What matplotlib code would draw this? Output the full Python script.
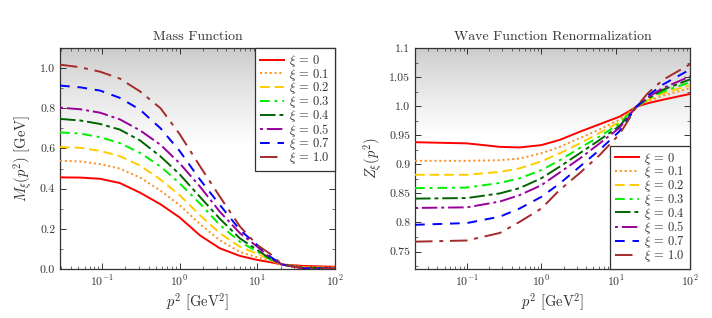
import matplotlib
matplotlib.use('Agg')
import matplotlib.pyplot as plt
import numpy as np
from matplotlib.ticker import MultipleLocator, LogLocator, NullFormatter

plt.rcParams['font.family'] = 'serif'
plt.rcParams['font.serif'] = ['cmr10', 'DejaVu Serif']
plt.rcParams['mathtext.fontset'] = 'cm'
plt.rcParams['axes.formatter.use_mathtext'] = True
plt.rcParams['axes.unicode_minus'] = False

# ---------------- data ----------------
xi_labels = ['0', '0.1', '0.2', '0.3', '0.4', '0.5', '0.7', '1.0']

# mass function M_xi(p^2) [GeV]
p2_mass = [0.029, 0.053, 0.095, 0.17, 0.31, 0.57, 1.0, 1.85, 3.3, 6.0, 10, 14.7, 21, 40, 100]
m_xi0 = [0.456, 0.455, 0.449, 0.428, 0.38, 0.322, 0.257, 0.166, 0.103, 0.065, 0.045, 0.034, 0.022, 0.015, 0.011]
m_xi01 = [0.539, 0.535, 0.522, 0.500, 0.455, 0.39, 0.318, 0.222, 0.143, 0.085, 0.058, 0.040, 0.022, 0.010, 0.008]
m_xi02 = [0.607, 0.603, 0.588, 0.562, 0.515, 0.445, 0.368, 0.266, 0.178, 0.11, 0.076, 0.045, 0.022, 0.008, 0.006]
m_xi03 = [0.68, 0.674, 0.656, 0.627, 0.578, 0.51, 0.427, 0.324, 0.219, 0.135, 0.086, 0.048, 0.022, 0.006, 0.005]
m_xi04 = [0.747, 0.739, 0.722, 0.694, 0.64, 0.56, 0.472, 0.357, 0.25, 0.152, 0.095, 0.050, 0.022, 0.005, 0.004]
m_xi05 = [0.803, 0.795, 0.778, 0.745, 0.69, 0.618, 0.527, 0.408, 0.285, 0.178, 0.111, 0.055, 0.022, 0.004, 0.003]
m_xi07 = [0.913, 0.904, 0.888, 0.852, 0.793, 0.70, 0.588, 0.443, 0.319, 0.194, 0.119, 0.061, 0.022, 0.002, 0.002]
m_xi10 = [1.017, 1.004, 0.982, 0.948, 0.884, 0.80, 0.672, 0.509, 0.36, 0.211, 0.119, 0.075, 0.022, 0.001, 0.001]

# wave function renormalization Z_xi(p^2)
p2_z = [0.02, 0.1, 0.277, 0.51, 1.0, 1.77, 3.29, 6.1, 11.3, 15, 19, 27, 43, 100]
z_xi0 = [0.938, 0.936, 0.930, 0.929, 0.933, 0.942, 0.956, 0.969, 0.982, 0.991, 0.999, 1.005, 1.011, 1.021]
z_xi01 = [0.906, 0.906, 0.907, 0.910, 0.919, 0.930, 0.945, 0.960, 0.977, 0.989, 0.999, 1.008, 1.018, 1.031]
z_xi02 = [0.882, 0.882, 0.887, 0.893, 0.905, 0.919, 0.936, 0.954, 0.973, 0.987, 0.999, 1.010, 1.022, 1.036]
z_xi03 = [0.859, 0.860, 0.868, 0.876, 0.890, 0.907, 0.928, 0.948, 0.970, 0.986, 0.999, 1.012, 1.025, 1.041]
z_xi04 = [0.841, 0.842, 0.850, 0.859, 0.876, 0.896, 0.919, 0.942, 0.966, 0.984, 0.999, 1.013, 1.028, 1.046]
z_xi05 = [0.825, 0.826, 0.836, 0.847, 0.864, 0.886, 0.910, 0.936, 0.963, 0.983, 0.999, 1.015, 1.031, 1.051]
z_xi07 = [0.796, 0.799, 0.810, 0.824, 0.844, 0.867, 0.896, 0.925, 0.957, 0.980, 0.999, 1.018, 1.037, 1.063]
z_xi10 = [0.767, 0.769, 0.782, 0.801, 0.824, 0.856, 0.885, 0.916, 0.952, 0.977, 0.999, 1.022, 1.045, 1.072]

mass_ticks = [0.0, 0.2, 0.4, 0.6, 0.8, 1.0]
mass_ticklabels = ['0.0', '0.2', '0.4', '0.6', '0.8', '1.0']
z_ticks = [0.75, 0.8, 0.85, 0.9, 0.95, 1.0, 1.05, 1.1]
z_ticklabels = ['0.75', '0.8', '0.85', '0.9', '0.95', '1.0', '1.05', '1.1']

mass_series = [m_xi0, m_xi01, m_xi02, m_xi03, m_xi04, m_xi05, m_xi07, m_xi10]
z_series = [z_xi0, z_xi01, z_xi02, z_xi03, z_xi04, z_xi05, z_xi07, z_xi10]

# line styles (colour, dash pattern)
colors = ['#ff0000', '#ff8c1a', '#ffcc00', '#00ee00', '#006400', '#990099', '#0000ff', '#a52a2a']
dashes = [None, (1, 1.5), (5, 2.5), (5, 2.5, 1.5, 2.5), (8, 2, 2, 2),
          (1.5, 2, 8, 2), (5, 4), (9, 3.5, 2, 3.5)]

dark = '#333333'


def gradient_bg(ax, frac):
    '''grey gradient at the top of the axes, fading to white'''
    h = 200
    t = np.linspace(0, 1, h)  # 0 at top
    g = np.where(t < frac, 0.79 + 0.21 * (t / frac) ** 0.8, 1.0)
    img = np.dstack([g, g, g]).reshape(h, 1, 3).repeat(2, axis=1)
    ax.imshow(img, extent=[0, 1, 0, 1], transform=ax.transAxes,
              aspect='auto', zorder=0, origin='upper')


def style_axes(ax):
    ax.set_xscale('log')
    ax.tick_params(which='both', direction='in', top=True, right=True,
                   colors=dark, labelcolor=dark, labelsize=8.5)
    ax.tick_params(which='major', length=4, width=0.7)
    ax.tick_params(which='minor', length=2, width=0.5)
    ax.xaxis.set_major_locator(LogLocator(base=10, numticks=10))
    ax.xaxis.set_minor_locator(LogLocator(base=10, subs=np.arange(2, 10), numticks=10))
    ax.xaxis.set_minor_formatter(NullFormatter())
    for s in ax.spines.values():
        s.set_color(dark)
        s.set_linewidth(0.9)
    ax.set_xlabel(r'$p^2\ [\mathrm{GeV}^2]$', fontsize=10.5, color=dark, labelpad=2)


def add_legend(ax, loc):
    leg = ax.legend(loc=loc, borderaxespad=0, fontsize=9, handlelength=1.9,
                    labelspacing=-0.18, handletextpad=0.4, borderpad=0.4,
                    fancybox=False, framealpha=1, edgecolor=dark)
    leg.get_frame().set_linewidth(0.9)
    for t in leg.get_texts():
        t.set_color(dark)
    return leg


fig = plt.figure(figsize=(7.12, 3.18), dpi=100)
ax1 = fig.add_axes([0.0843, 0.1541, 0.3862, 0.695])
ax2 = fig.add_axes([0.5829, 0.1541, 0.3862, 0.695])

# -------- left: mass function --------
gradient_bg(ax1, 0.45)
for i, y in enumerate(mass_series):
    ln, = ax1.plot(p2_mass, y, color=colors[i], lw=1.4,
                   label=r'$\xi \,=\, %s$' % xi_labels[i], zorder=3)
    if dashes[i] is not None:
        ln.set_dashes(dashes[i])
style_axes(ax1)
ax1.set_xlim(0.029, 100)
ax1.set_ylim(0, 1.1)
ax1.set_yticks(mass_ticks)
ax1.set_yticklabels(mass_ticklabels)
ax1.yaxis.set_minor_locator(MultipleLocator(0.1))
ax1.set_ylabel(r'$M_\xi(p^2)\ [\mathrm{GeV}]$', fontsize=10.5, color=dark, labelpad=4)
ax1.set_title('Mass Function', fontsize=10, color=dark, pad=6)
add_legend(ax1, 'upper right')

# -------- right: wave function renormalization --------
gradient_bg(ax2, 0.4)
for i, y in enumerate(z_series):
    ln, = ax2.plot(p2_z, y, color=colors[i], lw=1.4,
                   label=r'$\xi \,=\, %s$' % xi_labels[i], zorder=3)
    if dashes[i] is not None:
        ln.set_dashes(dashes[i])
style_axes(ax2)
ax2.set_xlim(0.02, 100)
ax2.set_ylim(0.72, 1.1)
ax2.set_yticks(z_ticks)
ax2.set_yticklabels(z_ticklabels)
ax2.yaxis.set_minor_locator(MultipleLocator(0.025))
ax2.set_ylabel(r'$Z_\xi(p^2)$', fontsize=10.5, color=dark, labelpad=4)
ax2.set_title('Wave Function Renormalization', fontsize=10, color=dark, pad=6)
add_legend(ax2, 'lower right')

fig.savefig('out.png', dpi=100)
